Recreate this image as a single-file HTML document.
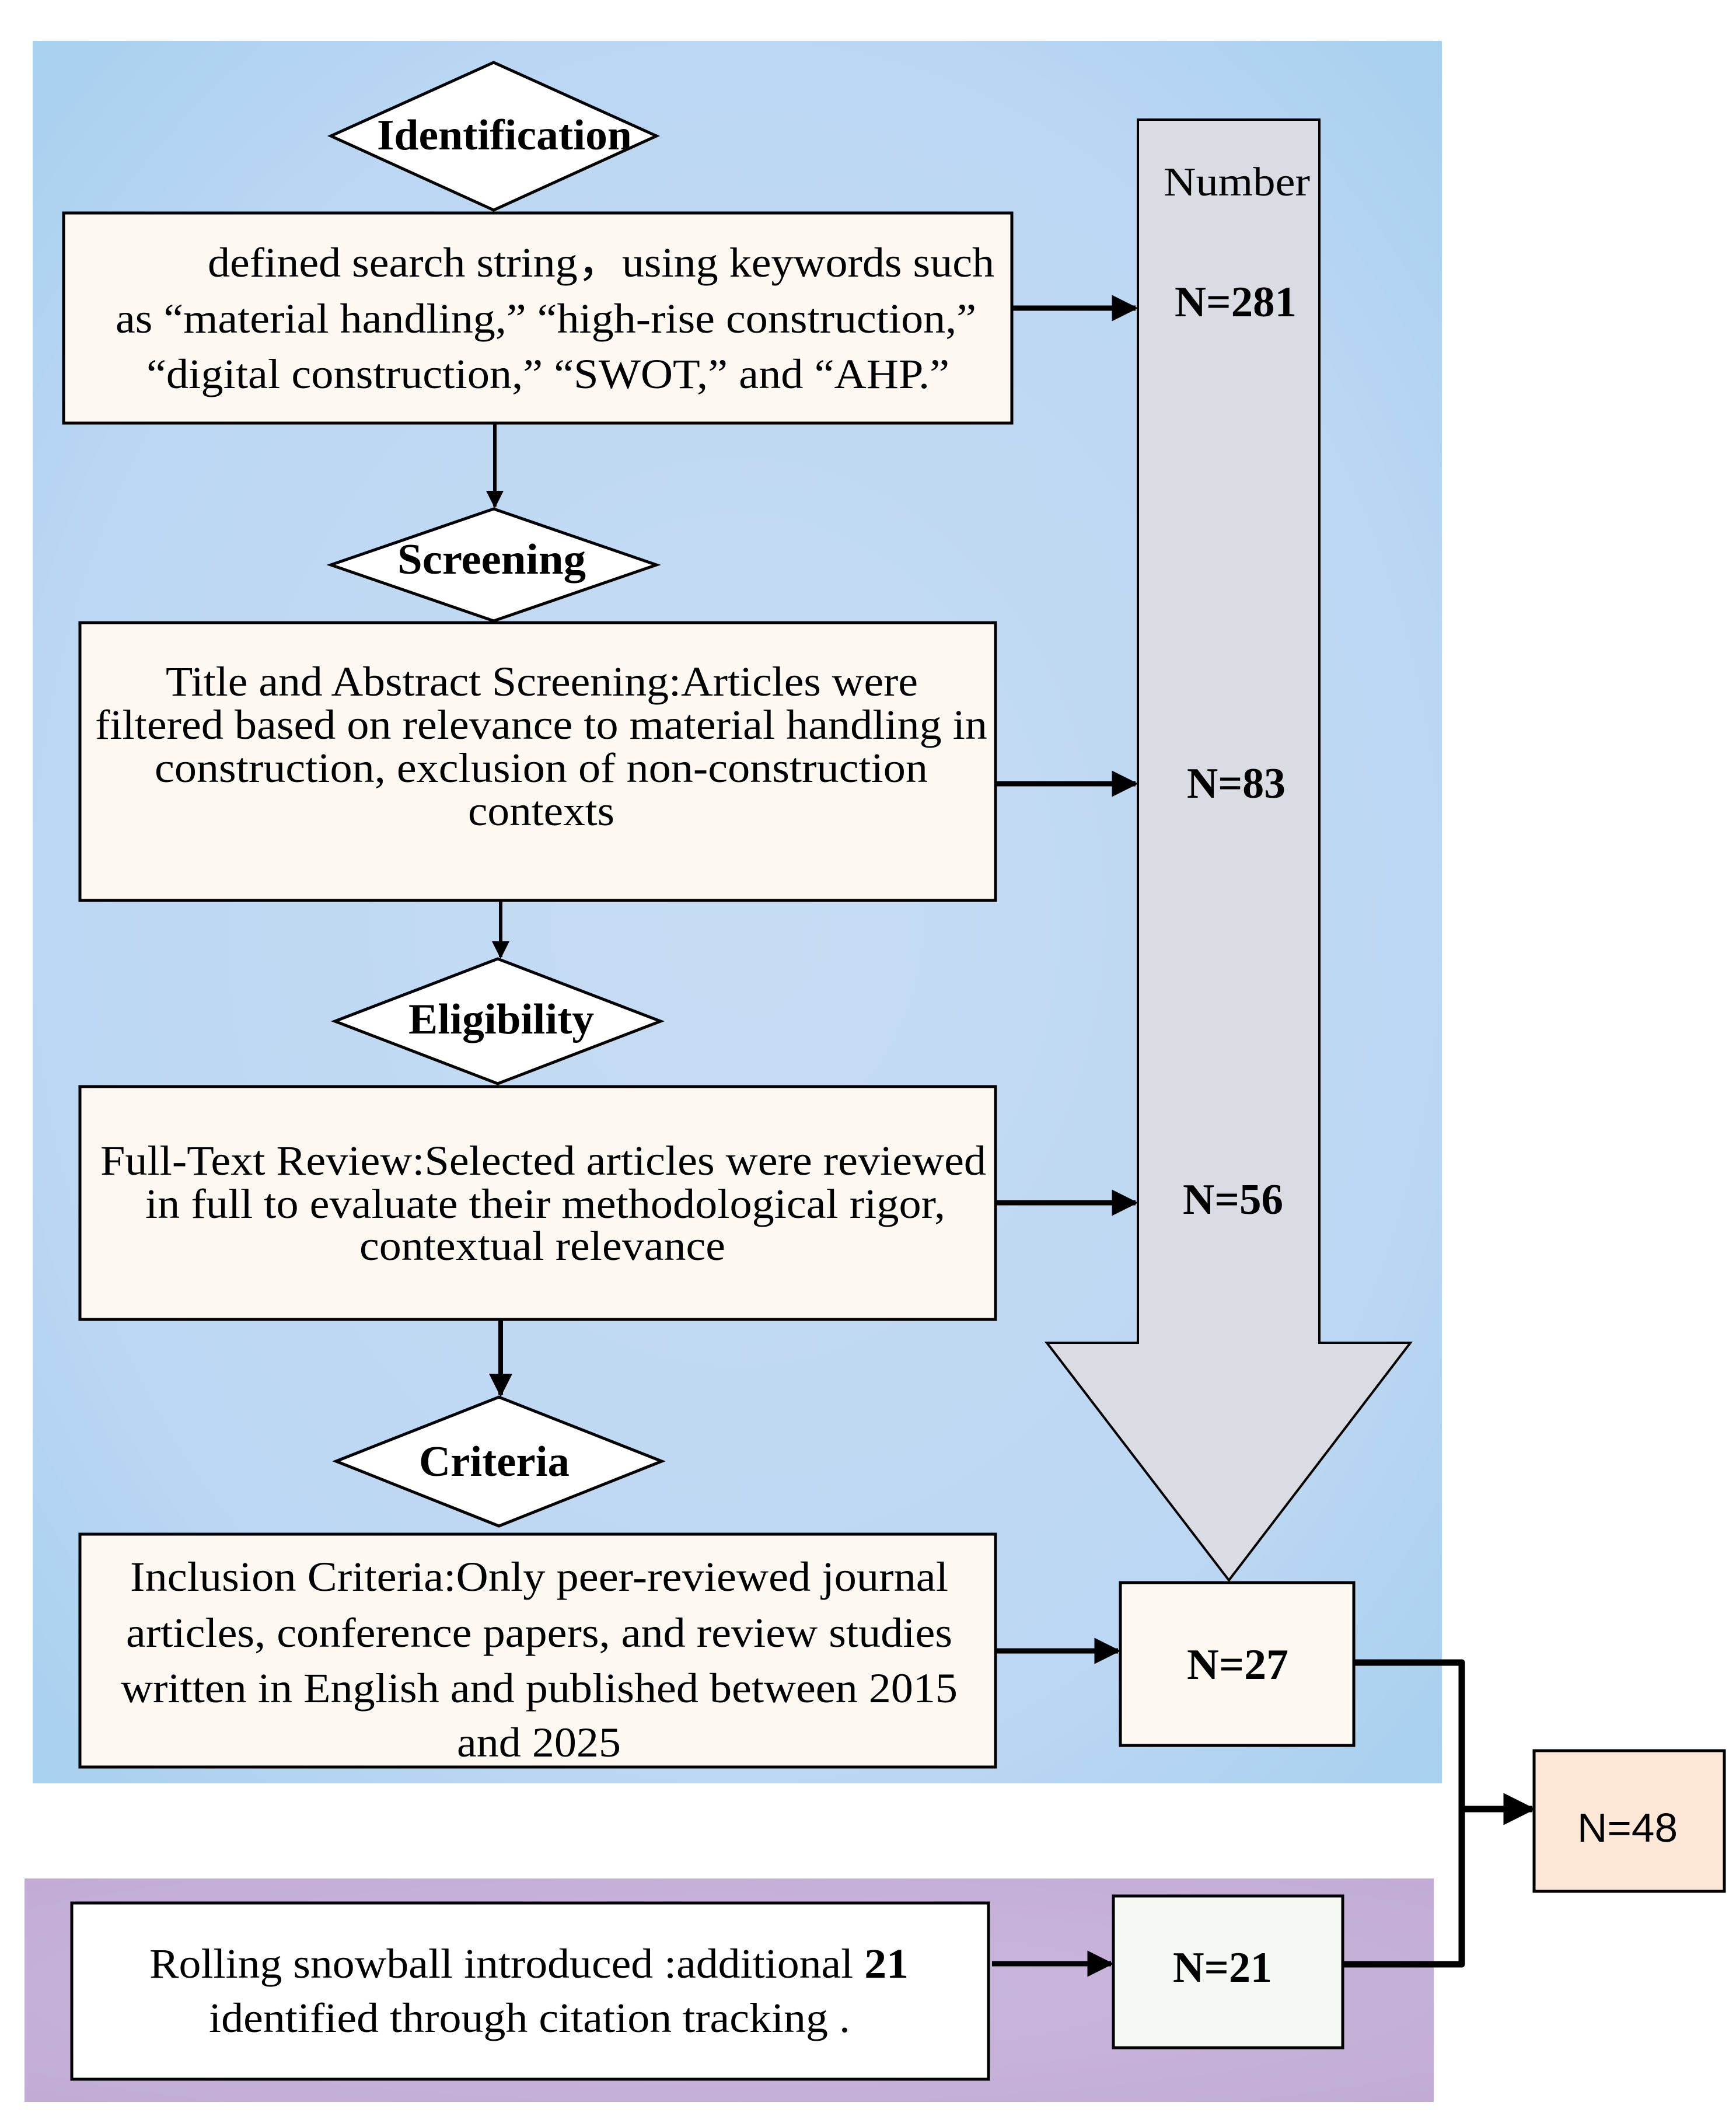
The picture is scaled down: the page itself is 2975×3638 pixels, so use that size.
<!DOCTYPE html>
<html><head><meta charset="utf-8"><style>html,body{margin:0;padding:0;background:#fff}svg{display:block}</style></head>
<body>
<svg width="2975" height="3638" viewBox="0 0 2975 3638" xmlns="http://www.w3.org/2000/svg" font-family="'Liberation Serif', serif">
<defs>
<radialGradient id="bg1" cx="50%" cy="50%" r="70%"><stop offset="0" stop-color="#c6dcf3"/><stop offset="0.7" stop-color="#bcd7f3"/><stop offset="1" stop-color="#a8d0ef"/></radialGradient>
<radialGradient id="bg2" cx="50%" cy="50%" r="70%"><stop offset="0" stop-color="#cbb8de"/><stop offset="1" stop-color="#c2acd6"/></radialGradient>
<marker id="ah" viewBox="0 0 10 10" refX="9" refY="5" markerWidth="5" markerHeight="5" orient="auto" markerUnits="strokeWidth"><path d="M0,0 L10,5 L0,10 z" fill="#000"/></marker>
</defs>
<rect x="56" y="70" width="2415" height="2986" fill="url(#bg1)"/>
<rect x="42" y="3219" width="2415" height="383" fill="url(#bg2)"/>

<g stroke="#000" stroke-width="5" fill="#fdf9f2">
<polygon points="567,233 846,107 1125,233 846,360" fill="#fff"/>
<rect x="109" y="365" width="1625" height="360"/>
<polygon points="567,968 846,872 1125,968 846,1064" fill="#fff"/>
<rect x="137" y="1067" width="1569" height="476"/>
<polygon points="574,1750 853,1643 1132,1750 853,1857" fill="#fff"/>
<rect x="137" y="1862" width="1569" height="399"/>
<polygon points="576,2504 855,2394 1134,2504 855,2615" fill="#fff"/>
<rect x="137" y="2629" width="1569" height="399"/>
<rect x="123" y="3261" width="1571" height="302" fill="#fff"/>
<polygon points="1950,205 2261,205 2261,2301 2417,2301 2106,2708 1794,2301 1950,2301" fill="#d9dce3" stroke-width="4"/>
<rect x="1920" y="2712" width="400" height="279"/>
<rect x="1908" y="3249" width="393" height="260" fill="#f6f9f3"/>
<rect x="2629" y="3000" width="326" height="241" fill="#fde7d6"/>
</g>

<g stroke="#000" fill="none">
<line x1="848" y1="725" x2="848" y2="868" stroke-width="6" marker-end="url(#ah)"/>
<line x1="858" y1="1543" x2="858" y2="1640" stroke-width="6" marker-end="url(#ah)"/>
<line x1="858" y1="2261" x2="858" y2="2390" stroke-width="8" marker-end="url(#ah)"/>
<line x1="1734" y1="528" x2="1946" y2="528" stroke-width="9" marker-end="url(#ah)"/>
<line x1="1706" y1="1343" x2="1946" y2="1343" stroke-width="9" marker-end="url(#ah)"/>
<line x1="1706" y1="2061" x2="1946" y2="2061" stroke-width="9" marker-end="url(#ah)"/>
<line x1="1706" y1="2829" x2="1916" y2="2829" stroke-width="9" marker-end="url(#ah)"/>
<line x1="1700" y1="3365" x2="1904" y2="3365" stroke-width="9" marker-end="url(#ah)"/>
<polyline points="2320,2849 2505,2849 2505,3366 2301,3366" stroke-width="11" stroke-linejoin="round"/>
<line x1="2505" y1="3100" x2="2626" y2="3100" stroke-width="11" marker-end="url(#ah)"/>
</g>

<g fill="#000" font-size="74" font-weight="bold">
<text x="646" y="256" textLength="437" lengthAdjust="spacingAndGlyphs">Identification</text>
<text x="681" y="983" textLength="323" lengthAdjust="spacingAndGlyphs">Screening</text>
<text x="700" y="1771" textLength="318" lengthAdjust="spacingAndGlyphs">Eligibility</text>
<text x="718" y="2529" textLength="258" lengthAdjust="spacingAndGlyphs">Criteria</text>
<text x="2013" y="542" textLength="209" lengthAdjust="spacingAndGlyphs">N=281</text>
<text x="2034" y="1367" textLength="169" lengthAdjust="spacingAndGlyphs">N=83</text>
<text x="2027" y="2080" textLength="172" lengthAdjust="spacingAndGlyphs">N=56</text>
<text x="2034" y="2877" textLength="174" lengthAdjust="spacingAndGlyphs">N=27</text>
<text x="2010" y="3396" textLength="170" lengthAdjust="spacingAndGlyphs">N=21</text>
</g>
<text x="1994" y="335" font-size="70" textLength="251" lengthAdjust="spacingAndGlyphs">Number</text>
<text x="2703" y="3156" font-size="70" font-family="'Liberation Sans', sans-serif" textLength="172" lengthAdjust="spacingAndGlyphs">N=48</text>

<g fill="#000" font-size="72" lengthAdjust="spacingAndGlyphs">
<text x="356" y="474" textLength="1348" lengthAdjust="spacingAndGlyphs">defined search string，using keywords such</text>
<text x="198" y="570" textLength="1475" lengthAdjust="spacingAndGlyphs">as “material handling,” “high-rise construction,”</text>
<text x="251" y="665" textLength="1376" lengthAdjust="spacingAndGlyphs">“digital construction,” “SWOT,” and “AHP.”</text>

<text x="284" y="1192" textLength="1289" lengthAdjust="spacingAndGlyphs">Title and Abstract Screening:Articles were</text>
<text x="163" y="1266" textLength="1529" lengthAdjust="spacingAndGlyphs">filtered based on relevance to material handling in</text>
<text x="265" y="1340" textLength="1325" lengthAdjust="spacingAndGlyphs">construction, exclusion of non-construction</text>
<text x="802" y="1414" textLength="251" lengthAdjust="spacingAndGlyphs">contexts</text>

<text x="172" y="2013" textLength="1518" lengthAdjust="spacingAndGlyphs">Full-Text Review:Selected articles were reviewed</text>
<text x="249" y="2087" textLength="1371" lengthAdjust="spacingAndGlyphs">in full to evaluate their methodological rigor,</text>
<text x="616" y="2159" textLength="627" lengthAdjust="spacingAndGlyphs">contextual relevance</text>

<text x="223" y="2726" textLength="1402" lengthAdjust="spacingAndGlyphs">Inclusion Criteria:Only peer-reviewed journal</text>
<text x="216" y="2822" textLength="1416" lengthAdjust="spacingAndGlyphs">articles, conference papers, and review studies</text>
<text x="207" y="2917" textLength="1434" lengthAdjust="spacingAndGlyphs">written in English and published between 2015</text>
<text x="783" y="3010" textLength="281" lengthAdjust="spacingAndGlyphs">and 2025</text>

<text x="256" y="3389" textLength="1301" lengthAdjust="spacingAndGlyphs">Rolling snowball introduced :additional <tspan font-weight="bold">21</tspan></text>
<text x="358" y="3482" textLength="1099" lengthAdjust="spacingAndGlyphs">identified through citation tracking .</text>
</g>
</svg>
</body></html>
